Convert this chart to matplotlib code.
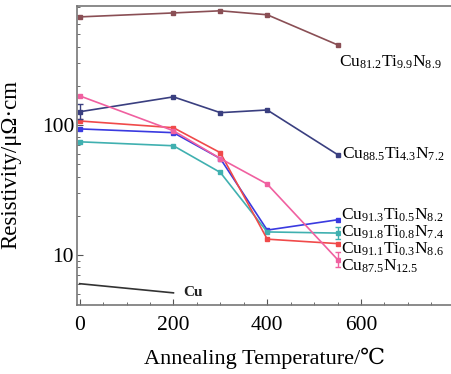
import numpy as np
from matplotlib import pyplot as plt
from matplotlib.ticker import MultipleLocator, FixedLocator, NullFormatter

temps = [0, 200, 300, 400, 550]
cu812 = [676, 725, 753, 702, 412]
cu885 = [126, 164, 124, 130, 59]
cu913 = [93, 87, 55, 15.5, 18.6]
cu918 = [74, 69, 43, 15, 14.7]
cu911 = [107, 95, 61, 13.2, 12.2]
cu875 = [167, 90, 55, 35, 9.2]
cu_temps = [0, 200]
cu_pure = [6.0, 5.1]

labels = [r'$\mathrm{Cu_{81.2}Ti_{9.9}N_{8.9}}$',
          r'$\mathrm{Cu_{88.5}Ti_{4.3}N_{7.2}}$',
          r'$\mathrm{Cu_{91.3}Ti_{0.5}N_{8.2}}$',
          r'$\mathrm{Cu_{91.8}Ti_{0.8}N_{7.4}}$',
          r'$\mathrm{Cu_{91.1}Ti_{0.3}N_{8.6}}$',
          r'$\mathrm{Cu_{87.5}N_{12.5}}$']

plt.rcParams['font.family'] = ['Liberation Serif', 'DejaVu Serif']
plt.rcParams['mathtext.fontset'] = 'custom'
plt.rcParams['mathtext.rm'] = 'Liberation Serif'

fig = plt.figure(figsize=(4.52, 3.74), dpi=100)
ax = fig.add_axes([0.170, 0.184, 0.832, 0.800])

series = [cu812, cu885, cu913, cu918, cu911, cu875]
colors = ['#8a4f55', '#3a3f80', '#3a3ae0', '#40b0b0', '#f04a4a', '#f060a0']
for ys, c in zip(series, colors):
    ax.plot(temps, ys, '-s', color=c, lw=1.2, ms=2.5)
ax.plot(cu_temps, cu_pure, '-', color='#333333', lw=1.2)

# small error bars
ax.errorbar([0], [cu885[0]], yerr=[[15], [18]], color=colors[1], capsize=2, lw=1)
ax.errorbar([550], [cu918[4]], yerr=[[1.5], [1.8]], color=colors[3], capsize=2, lw=1)
ax.errorbar([550], [cu875[4]], yerr=[[1.2], [1.3]], color=colors[5], capsize=2, lw=1)

ax.set_yscale('log')
ax.set_xlim(-6, 796)
ax.set_ylim(4.1, 820)

# curve labels
ax.text(553, 305, labels[0], fontsize=12.5, va='center')
ax.text(560, 59, labels[1], fontsize=12.5, va='center')
lab_y = [20.3, 15.0, 11.1, 8.2]
for y, lab in zip(lab_y, labels[2:]):
    ax.text(557, y, lab, fontsize=12.5, va='center',
            bbox=dict(facecolor='white', edgecolor='none', pad=0, alpha=0.85))
ax.text(220, 5.1, 'Cu', fontsize=11, fontweight='bold', va='center',
        color='#222222')

ax.xaxis.set_major_locator(FixedLocator([0, 200, 400, 600]))
ax.xaxis.set_minor_locator(MultipleLocator(50))
ax.set_yticks([10, 100])
ax.set_yticklabels(['10', '100'])
ax.tick_params(which='both', direction='in', labelsize=15.5, colors='#555555',
               labelcolor='black')
ax.tick_params(axis='x', pad=8)
ax.tick_params(axis='y', pad=2)
ax.tick_params(which='major', length=4)
ax.tick_params(which='minor', length=2)
ax.yaxis.set_minor_formatter(NullFormatter())
for s in ax.spines.values():
    s.set_color('#777777')
    s.set_linewidth(1.2)

ax.set_xlabel('Annealing Temperature/\u2103', fontsize=16, labelpad=9)
ax.set_ylabel('Resistivity/\u03bc\u03a9\u00b7cm', fontsize=16.5)
ax.yaxis.set_label_coords(-0.148, 0.47)

fig.savefig('out.png', dpi=100)
